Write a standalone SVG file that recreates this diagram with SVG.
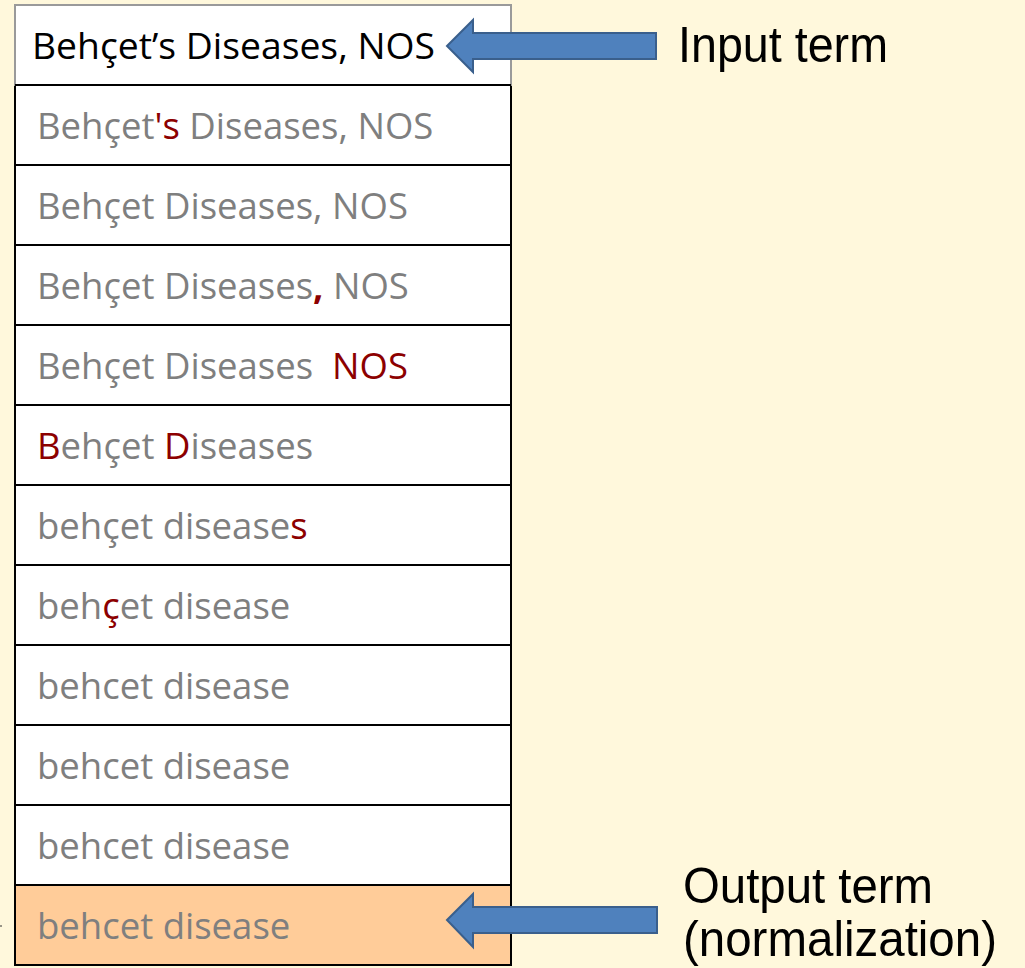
<svg xmlns="http://www.w3.org/2000/svg" width="1025" height="968" viewBox="0 0 1025 968">
<style>
.cell{fill:#ffffff;stroke:#000000;stroke-width:2}
.t{font-family:"Open Sans","Liberation Sans",sans-serif;font-size:36.5px;fill:#7f7f7f}
.hl{fill:#8c0000}
.lbl{font-family:"Liberation Sans",Arial,sans-serif;font-size:50px;fill:#000000}
.arrow{fill:#4f81bd;stroke:#3a5f8c;stroke-width:2;stroke-linejoin:miter}
</style>
<rect x="0" y="0" width="1025" height="968" fill="#fff8dc"/>
<line x1="0" y1="926" x2="2" y2="926" stroke="#333333" stroke-width="1"/>

<g id="row1"><rect x="15" y="85" width="496" height="80" class="cell"/><text class="t" x="37" y="139">Behçet<tspan class="hl">'s</tspan> Diseases, NOS</text></g>
<g id="row2"><rect x="15" y="165" width="496" height="80" class="cell"/><text class="t" x="37" y="219">Behçet Diseases, NOS</text></g>
<g id="row3"><rect x="15" y="245" width="496" height="80" class="cell"/><text class="t" x="37" y="299">Behçet Diseases<tspan class="hl" style="font-weight:bold">,</tspan> NOS</text></g>
<g id="row4"><rect x="15" y="325" width="496" height="80" class="cell"/><text class="t" x="37" y="379" xml:space="preserve">Behçet Diseases  <tspan class="hl">NOS</tspan></text></g>
<g id="row5"><rect x="15" y="405" width="496" height="80" class="cell"/><text class="t" x="37" y="459"><tspan class="hl">B</tspan>ehçet <tspan class="hl">D</tspan>iseases</text></g>
<g id="row6"><rect x="15" y="485" width="496" height="80" class="cell"/><text class="t" x="37" y="539">behçet disease<tspan class="hl">s</tspan></text></g>
<g id="row7"><rect x="15" y="565" width="496" height="80" class="cell"/><text class="t" x="37" y="619">beh<tspan class="hl">ç</tspan>et disease</text></g>
<g id="row8"><rect x="15" y="645" width="496" height="80" class="cell"/><text class="t" x="37" y="699">behcet disease</text></g>
<g id="row9"><rect x="15" y="725" width="496" height="80" class="cell"/><text class="t" x="37" y="779">behcet disease</text></g>
<g id="row10"><rect x="15" y="805" width="496" height="80" class="cell"/><text class="t" x="37" y="859">behcet disease</text></g>
<g id="row11"><rect x="15" y="885" width="496" height="80" class="cell" style="fill:#ffcc99"/><text class="t" x="37" y="939">behcet disease</text></g>
<g id="row0"><rect x="15" y="5" width="496" height="80" fill="#ffffff" stroke="#9a9a9a" stroke-width="2"/><line x1="15" y1="85" x2="511" y2="85" stroke="#000" stroke-width="2"/><text class="t" x="32" y="59" textLength="403" lengthAdjust="spacingAndGlyphs" style="fill:#000000">Behçet’s Diseases, NOS</text></g>

<g id="connectors">
<polygon class="arrow" points="447,46 473,20 473,33 656,33 656,59 473,59 473,72"/>
<polygon class="arrow" points="447,920 473,894 473,907 657,907 657,933 473,933 473,947"/>
</g>

<g id="label-input"><text class="lbl" x="678" y="62" textLength="210" lengthAdjust="spacingAndGlyphs">Input term</text></g>
<g id="label-output"><text class="lbl" x="683" y="903" textLength="250" lengthAdjust="spacingAndGlyphs">Output term</text><text class="lbl" x="683" y="956" textLength="314" lengthAdjust="spacingAndGlyphs">(normalization)</text></g>
</svg>
